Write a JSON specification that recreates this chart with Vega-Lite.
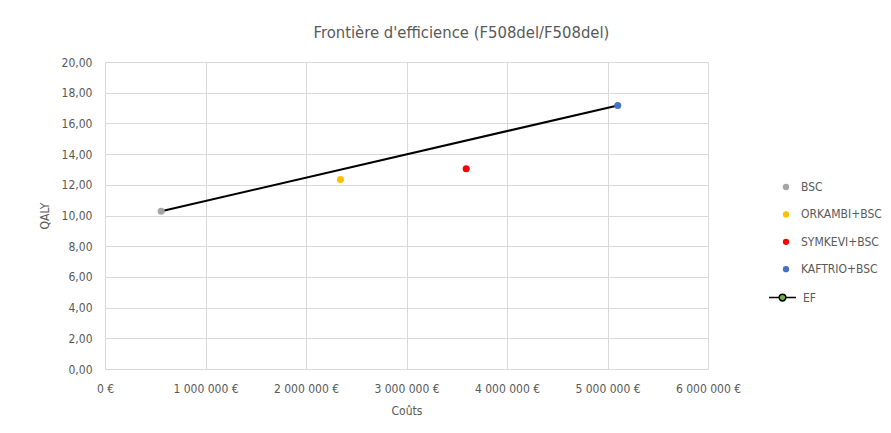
{
  "$schema": "https://vega.github.io/schema/vega-lite/v6.json",
  "width": 603,
  "height": 307,
  "autosize": "none",
  "padding": {"left": 105, "top": 62, "right": 183, "bottom": 64},
  "background": "white",
  "config": {
    "locale": {"number": {"decimal": ",", "thousands": " ", "grouping": [3], "currency": ["", " €"]}},
    "font": "Liberation Sans Narrow, DejaVu Sans Condensed, Liberation Sans, sans-serif",
    "view": {"stroke": null},
    "axis": {
      "gridColor": "#D9D9D9",
      "gridWidth": 1,
      "domain": false,
      "ticks": false,
      "labelColor": "#595959",
      "labelFontSize": 12,
      "labelOverlap": false,
      "labelFlush": false,
      "titleColor": "#595959",
      "titleFontSize": 12,
      "titleFontWeight": "normal"
    },
    "legend": {"labelColor": "#595959", "labelFontSize": 12}
  },
  "title": {
    "text": "Frontière d'efficience (F508del/F508del)",
    "fontSize": 16.5,
    "fontWeight": "normal",
    "color": "#595959",
    "anchor": "middle",
    "dx": 55,
    "offset": 15
  },
  "datasets": {
    "pts": [
      {"strategie": "BSC", "cout": 559000, "qaly": 10.28},
      {"strategie": "ORKAMBI+BSC", "cout": 2343000, "qaly": 12.35},
      {"strategie": "SYMKEVI+BSC", "cout": 3594000, "qaly": 13.04},
      {"strategie": "KAFTRIO+BSC", "cout": 5102000, "qaly": 17.17}
    ],
    "ef": [
      {"serie": "EF", "cout": 559000, "qaly": 10.28},
      {"serie": "EF", "cout": 5102000, "qaly": 17.17}
    ]
  },
  "encoding": {
    "x": {
      "field": "cout", "type": "quantitative",
      "scale": {"domain": [0, 6000000], "nice": false},
      "axis": {"values": [0, 1000000, 2000000, 3000000, 4000000, 5000000, 6000000], "tickCount": 7, "format": "$,.0f", "title": "Coûts", "labelPadding": 14, "titlePadding": 11}
    },
    "y": {
      "field": "qaly", "type": "quantitative",
      "scale": {"domain": [0, 20], "nice": false},
      "axis": {"values": [0, 2, 4, 6, 8, 10, 12, 14, 16, 18, 20], "tickCount": 11, "format": ",.2f", "title": "QALY", "labelPadding": 13, "titlePadding": 10}
    }
  },
  "layer": [
    {
      "data": {"name": "ef"},
      "mark": {"type": "line", "strokeWidth": 2},
      "encoding": {
        "stroke": {
          "field": "serie", "type": "nominal",
          "scale": {"domain": ["EF"], "range": ["#000000"]},
          "legend": {
            "title": null,
            "orient": "none",
            "legendX": 663,
            "legendY": 221,
            "symbolType": "M-1,0L-0.25,0M0.25,0L1,0M0.25,0A0.25,0.25,0,1,1,-0.25,0A0.25,0.25,0,1,1,0.25,0Z",
            "symbolSize": 729,
            "symbolStrokeWidth": 1.5,
            "labelOffset": 6,
            "encode": {"symbols": {"update": {"fill": {"value": "#70AD47"}, "stroke": {"value": "#000000"}}}}
          }
        }
      }
    },
    {
      "data": {"name": "pts"},
      "mark": {"type": "circle", "size": 50, "opacity": 1},
      "encoding": {
        "fill": {
          "field": "strategie", "type": "nominal",
          "scale": {"domain": ["BSC", "ORKAMBI+BSC", "SYMKEVI+BSC", "KAFTRIO+BSC"], "range": ["#A5A5A5", "#FFC000", "#FF0000", "#4472C4"]},
          "legend": {
            "title": null,
            "orient": "none",
            "legendX": 675,
            "legendY": 119,
            "symbolType": "circle",
            "symbolSize": 40,
            "rowPadding": 15.4,
            "labelOffset": 9
          }
        }
      }
    }
  ],
  "resolve": {"scale": {"fill": "independent", "stroke": "independent"}}
}
